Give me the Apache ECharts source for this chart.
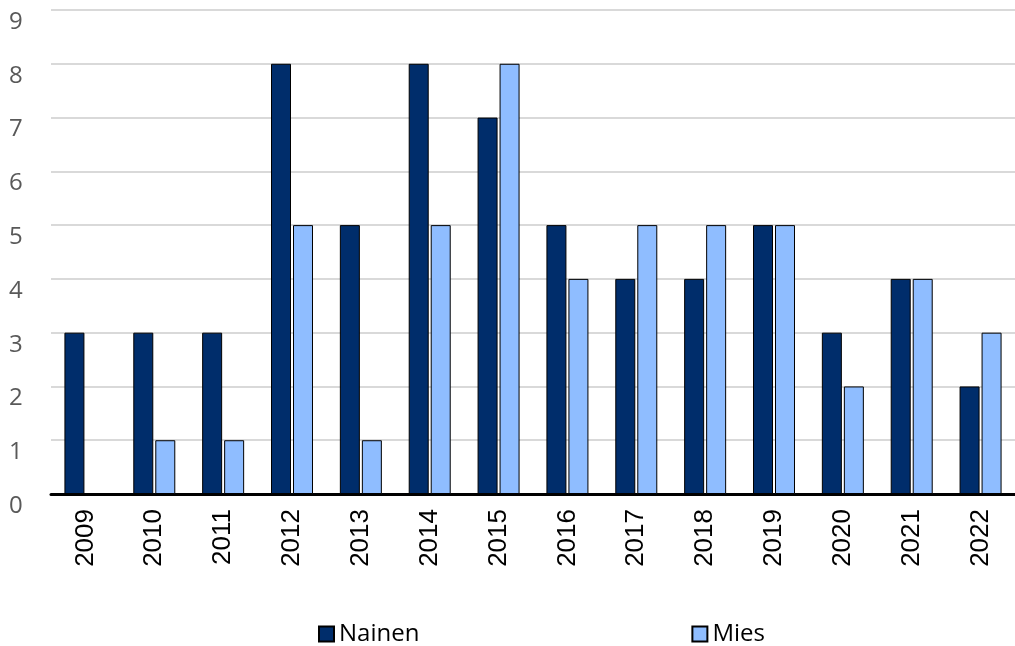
<!DOCTYPE html>
<html>
<head>
<meta charset="utf-8">
<script src="https://cdn.jsdelivr.net/npm/echarts@6/dist/echarts.min.js"></script>
<style>
  html, body { margin: 0; padding: 0; background: #fff; }
  #chart { width: 1015px; height: 646px; }
</style>
</head>
<body>
<div id="chart"></div>
<script>
var years = ['2009','2010','2011','2012','2013','2014','2015','2016','2017','2018','2019','2020','2021','2022'];
var nainen = [3, 3, 3, 8, 5, 8, 7, 5, 4, 4, 5, 3, 4, 2];
var mies = [0, 1, 1, 5, 1, 5, 8, 4, 5, 5, 5, 2, 4, 3];

var chart = echarts.init(document.getElementById('chart'));
chart.setOption({
  animation: false,
  grid: { left: 51, right: -1, top: 10, bottom: 152 },
  legend: {
    left: 313,
    top: 617,
    itemWidth: 15,
    itemHeight: 15,
    itemGap: 272,
    icon: 'rect',
    textStyle: { fontFamily: 'Open Sans', fontSize: 24, color: '#000' },
    data: ['Nainen', 'Mies']
  },
  xAxis: {
    type: 'category',
    data: years,
    axisLine: { lineStyle: { color: '#000', width: 3 } },
    axisTick: { show: false },
    axisLabel: { rotate: 90, fontFamily: 'Liberation Sans', fontSize: 26, color: '#000', margin: 15 }
  },
  yAxis: {
    type: 'value',
    min: 0,
    max: 9,
    interval: 1,
    axisLine: { show: false },
    axisTick: { show: false },
    splitLine: { lineStyle: { color: '#d9d9d9', width: 2 } },
    axisLabel: { fontFamily: 'Open Sans', fontSize: 24, color: '#595959', align: 'left', verticalAlign: 'top', margin: 42 }
  },
  series: [
    {
      name: 'Nainen', type: 'bar', data: nainen,
      barWidth: 20, barGap: '10%',
      itemStyle: { color: '#002D6B', borderColor: '#000', borderWidth: 1 }
    },
    {
      name: 'Mies', type: 'bar', data: mies,
      barWidth: 20,
      itemStyle: { color: '#8FBDFF', borderColor: '#000', borderWidth: 1 }
    }
  ]
});
</script>
</body>
</html>
